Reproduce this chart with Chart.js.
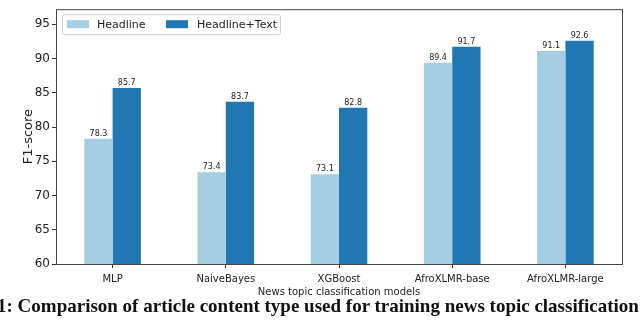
<!DOCTYPE html>
<html>
<head>
<meta charset="utf-8">
<script src="https://cdn.jsdelivr.net/npm/chart.js@4"></script>
<style>
  html, body { margin: 0; padding: 0; background: #fff; }
  #wrap { position: relative; width: 640px; height: 321px; overflow: hidden; }
  #grafico { position: absolute; left: 0; top: 0; }
  #legenda {
    position: absolute; left: -3px; top: 295px; white-space: nowrap;
    font-family: "Liberation Serif", "DejaVu Serif", serif; font-weight: bold; font-size: 19px; color: #111;
  }
</style>
</head>
<body>
<div id="wrap">
  <canvas id="grafico" width="640" height="298"></canvas>
  <div id="legenda">1: Comparison of article content type used for training news topic classification</div>
</div>
<script>
// === Dados ===
const modelos = ["MLP", "NaiveBayes", "XGBoost", "AfroXLMR-base", "AfroXLMR-large"];
const headline = [78.3, 73.4, 73.1, 89.4, 91.1];
const headlineTexto = [85.7, 83.7, 82.8, 91.7, 92.6];
const rotulosSeries = ["Headline", "Headline+Text"];
const coresSeries = ["#a6cee3", "#1f78b4"];

const fonte = "'DejaVu Sans', sans-serif";

// moldura em volta da área do gráfico (estilo matplotlib)
const moldura = {
  id: "moldura",
  afterDraw(chart) {
    const { ctx, chartArea: a } = chart;
    ctx.save();
    ctx.strokeStyle = "#444";
    ctx.lineWidth = 1;
    ctx.strokeRect(a.left + 0.5, a.top + 0.5, a.right - a.left, a.bottom - a.top);
    ctx.restore();
  }
};

// valores em cima das barras
const valores = {
  id: "valores",
  afterDatasetsDraw(chart) {
    const ctx = chart.ctx;
    ctx.save();
    ctx.font = "8px " + fonte;
    ctx.fillStyle = "#222";
    ctx.textAlign = "center";
    ctx.textBaseline = "bottom";
    chart.data.datasets.forEach((ds, i) => {
      chart.getDatasetMeta(i).data.forEach((bar, j) => {
        ctx.fillText(ds.data[j].toFixed(1), bar.x, bar.y - 1);
      });
    });
    ctx.restore();
  }
};

// legenda dentro do gráfico, canto superior esquerdo
const legendaInterna = {
  id: "legendaInterna",
  afterDraw(chart) {
    const { ctx, chartArea: a } = chart;
    const x0 = a.left + 6, y0 = a.top + 5;
    ctx.save();
    ctx.fillStyle = "rgba(255,255,255,0.8)";
    ctx.strokeStyle = "#ccc";
    ctx.lineWidth = 1;
    ctx.beginPath();
    ctx.roundRect(x0 + 0.5, y0 + 0.5, 218, 20, 2);
    ctx.fill();
    ctx.stroke();
    ctx.font = "11px " + fonte;
    ctx.textBaseline = "middle";
    const posicoes = [[x0 + 5, x0 + 35], [x0 + 104, x0 + 135]];
    chart.data.datasets.forEach((ds, i) => {
      ctx.fillStyle = ds.backgroundColor;
      ctx.fillRect(posicoes[i][0], y0 + 6, 22, 8);
      ctx.fillStyle = "#222";
      ctx.fillText(ds.label, posicoes[i][1], y0 + 10.5);
    });
    ctx.restore();
  }
};

new Chart(document.getElementById("grafico").getContext("2d"), {
  type: "bar",
  data: {
    labels: modelos,
    datasets: [
      { label: rotulosSeries[0], data: headline, backgroundColor: coresSeries[0] },
      { label: rotulosSeries[1], data: headlineTexto, backgroundColor: coresSeries[1] }
    ]
  },
  options: {
    responsive: false,
    animation: false,
    layout: { padding: { top: 1, right: 18, left: 0, bottom: 0 } },
    datasets: { bar: { categoryPercentage: 0.5, barPercentage: 1.0 } },
    scales: {
      x: {
        grid: { display: true, offset: false, drawOnChartArea: false, drawTicks: true, tickLength: 4, color: "#333" },
        border: { display: false },
        ticks: { font: { family: fonte, size: 10 }, color: "#222", padding: 5, maxRotation: 0 },
        title: { display: true, text: "News topic classification models", font: { family: fonte, size: 10 }, color: "#222", padding: { top: 1, bottom: 0 } },
        afterFit(scale) { scale.height = 34; }
      },
      y: {
        min: 60,
        max: 97.2,
        grid: { display: true, drawOnChartArea: false, drawTicks: true, tickLength: 4, color: "#333" },
        border: { display: false },
        ticks: { stepSize: 5, font: { family: fonte, size: 12 }, color: "#222", padding: 2 },
        title: { display: true, text: "F1-score", font: { family: fonte, size: 13 }, color: "#222", padding: { top: 21, bottom: 0 } },
        afterBuildTicks(scale) { scale.ticks = scale.ticks.filter(t => t.value % 5 === 0); },
        afterFit(scale) { scale.width = 56; }
      }
    },
    plugins: {
      legend: { display: false },
      tooltip: { enabled: false }
    }
  },
  plugins: [moldura, valores, legendaInterna]
});
</script>
</body>
</html>
